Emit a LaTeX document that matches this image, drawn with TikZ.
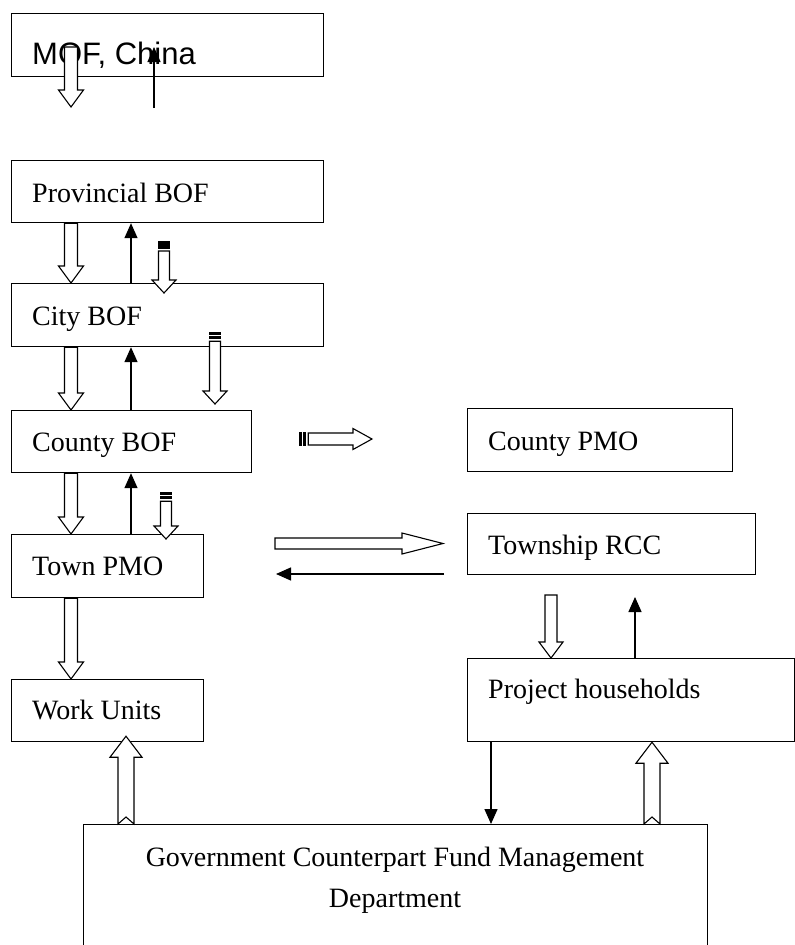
\documentclass[tikz,border=0pt]{standalone}
\usepackage{fontspec}
\setmainfont{Liberation Serif}
\newfontfamily\arialfont{Liberation Sans}
\usetikzlibrary{calc,arrows.meta}
\tikzset{
  box/.style = {draw, line width=1.2pt, anchor=north west, inner sep=0pt},
  txt/.style = {anchor=base west, inner sep=0pt, font=\fontsize{28}{41}\selectfont},
  ln/.style = {line width=1.4pt, -{Triangle[length=15pt,width=13pt]}},
  fat/.style = {draw, fill=white, line width=1.1pt, line join=miter}
}
% sizes of the hollow arrows: half shaft, half head, head length, notch
\newcommand{\arSw}{6.5}
\newcommand{\arHw}{12.5}
\newcommand{\arHl}{17}
\newcommand{\arNd}{0}
\newcommand{\setarrow}[4]{\renewcommand{\arSw}{#1}\renewcommand{\arHw}{#2}%
  \renewcommand{\arHl}{#3}\renewcommand{\arNd}{#4}}
\newcommand{\hollowarrow}[2]{%
  \path[fat] let \p1=#1, \p2=#2,
    \p3=($(\p2)!\arHl pt!(\p1)$), \p4=($(\p1)!\arNd pt!(\p2)$) in
    ($(\p1)!\arSw pt!90:(\p2)$) -- ($(\p3)!\arSw pt!90:(\p2)$) --
    ($(\p3)!\arHw pt!90:(\p2)$) -- (\p2) --
    ($(\p3)!\arHw pt!-90:(\p2)$) -- ($(\p3)!\arSw pt!-90:(\p2)$) --
    ($(\p1)!\arSw pt!-90:(\p2)$) -- (\p4) -- cycle;}
\newcommand{\stripedarrow}[2]{%
  \path[fat, fill=black] let \p1=#1, \p2=#2,
    \p5=($(\p1)!2pt!(\p2)$), \p6=($(\p1)!4pt!(\p2)$), \p7=($(\p1)!6pt!(\p2)$) in
    ($(\p1)!\arSw pt!90:(\p2)$) rectangle ($(\p5)!\arSw pt!-90:(\p2)$)
    ($(\p6)!\arSw pt!90:(\p2)$) rectangle ($(\p7)!\arSw pt!-90:(\p2)$);
  \hollowarrow{($#1!9pt!#2$)}{#2}}

\begin{document}
\begin{tikzpicture}[x=1pt, y=-1pt]
\clip (0,0) rectangle (795,945);
% boxes
\node[box, minimum width=312pt, minimum height=63pt] (mof) at (11,13) {};
\node[box, minimum width=312pt, minimum height=62pt] (prov) at (11,160) {};
\node[box, minimum width=312pt, minimum height=63pt] (city) at (11,283) {};
\node[box, minimum width=240pt, minimum height=62pt] (county) at (11,410) {};
\node[box, minimum width=192pt, minimum height=63pt] (town) at (11,534) {};
\node[box, minimum width=192pt, minimum height=62pt] (work) at (11,679) {};
\node[box, minimum width=265pt, minimum height=63pt] (cpmo) at (467,408) {};
\node[box, minimum width=288pt, minimum height=61pt] (rcc) at (467,513) {};
\node[box, minimum width=327pt, minimum height=83pt] (house) at (467,658) {};
\node[box, minimum width=624pt, minimum height=140pt] (gov) at (83,824) {};

\node[txt, font=\arialfont\fontsize{31}{36}\selectfont] (mof-t) at (32,64) {MOF, China};
\node[txt] (prov-t) at (32,202) {Provincial BOF};
\node[txt] (city-t) at (32,325) {City BOF};
\node[txt] (county-t) at (32,451) {County BOF};
\node[txt] (town-t) at (32,575) {Town PMO};
\node[txt] (work-t) at (32,719) {Work Units};
\node[txt] (cpmo-t) at (488,450) {County PMO};
\node[txt] (rcc-t) at (488,554) {Township RCC};
\node[txt] (house-t) at (488,698) {Project households};
\node[txt, anchor=base] (gov-t1) at (395,866) {Government Counterpart Fund Management};
\node[txt, anchor=base] (gov-t2) at (395,907) {Department};

% free ends
\coordinate (mof-dn) at (71,107);
\coordinate (mof-up) at (154,108);
\coordinate (rcc-in) at (443,543.5);
\coordinate (town-out) at (275,543.5);
\coordinate (rcc-out) at (444,574);
\coordinate (town-in) at (276,574);
\coordinate (house-dn) at (551,595);
\coordinate (house-up) at (635,597);

% money down, reports up
\hollowarrow{([shift={(60,34)}]mof.north west)}{(mof-dn)}
\draw[ln] (mof-up) -- ([shift={(143,34)}]mof.north west);
\hollowarrow{([xshift=60pt]prov.south west)}{([xshift=60pt]city.north west)}
\hollowarrow{([xshift=60pt]city.south west)}{([xshift=60pt]county.north west)}
\hollowarrow{([xshift=60pt]county.south west)}{([xshift=60pt]town.north west)}
\hollowarrow{([xshift=60pt]town.south west)}{([xshift=60pt]work.north west)}
\draw[ln] ([xshift=120pt]city.north west) -- ([xshift=120pt]prov.south west);
\draw[ln] ([xshift=120pt]county.north west) -- ([xshift=120pt]city.south west);
\draw[ln] ([xshift=120pt]town.north west) -- ([xshift=120pt]county.south west);

\begin{scope}
\setarrow{5.5}{12}{13}{0}
\stripedarrow{([shift={(153,82)}]prov.north west)}{([shift={(153,10)}]city.north west)}
\stripedarrow{([shift={(204,-15)}]city.south west)}{([xshift=204pt,yshift=6pt]county.north west)}
\stripedarrow{([shift={(155,19)}]county.south west)}{([shift={(155,5)}]town.north west)}
\setarrow{6}{10.5}{19}{0}
\stripedarrow{([shift={(47,29)}]county.north east)}{([shift={(-95,31)}]cpmo.north west)}
\setarrow{5.5}{10.5}{41}{0}
\hollowarrow{(town-out)}{(rcc-in)}
\end{scope}
\draw[ln] (rcc-out) -- (town-in);

\begin{scope}
\setarrow{6}{12}{16}{0}
\hollowarrow{(house-dn)}{([xshift=84pt]house.north west)}
\end{scope}
\draw[ln] ([xshift=168pt]house.north west) -- (house-up);
\draw[ln] ([xshift=24pt]house.south west) -- ([xshift=408pt]gov.north west);

\begin{scope}
\setarrow{8}{16}{21}{7}
\hollowarrow{([xshift=43pt]gov.north west)}{([shift={(115,-6)}]work.south west)}
\hollowarrow{([xshift=569pt]gov.north west)}{([xshift=185pt]house.south west)}
\end{scope}
\end{tikzpicture}
\end{document}
